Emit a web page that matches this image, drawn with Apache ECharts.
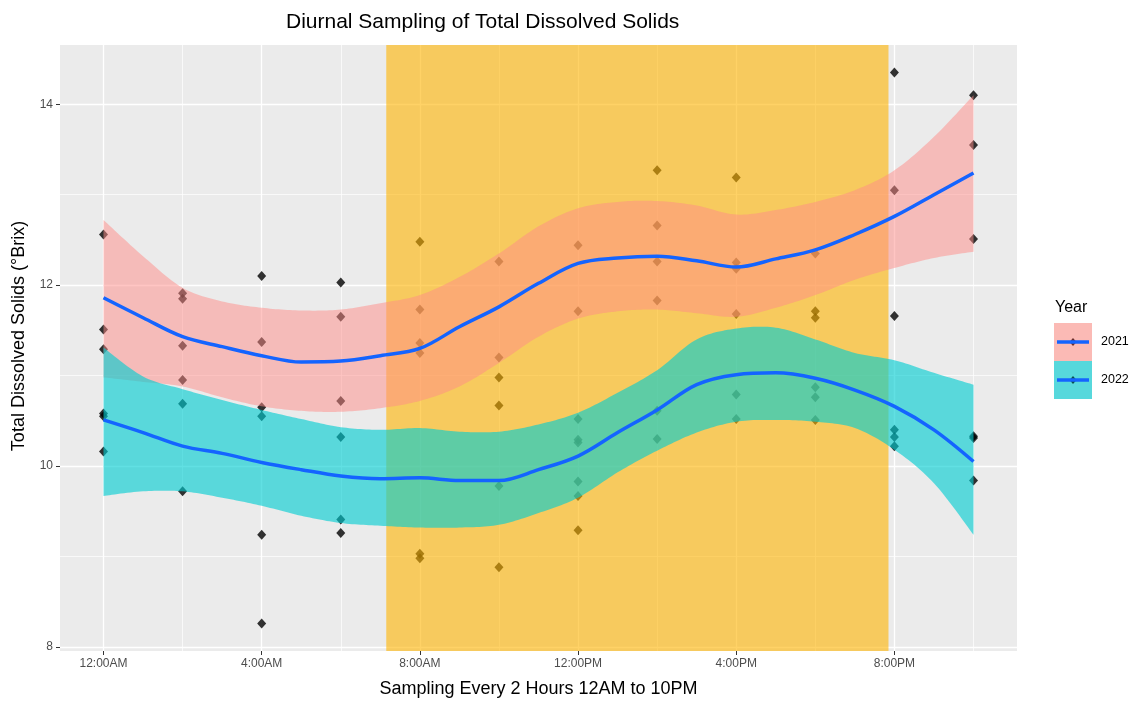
<!DOCTYPE html>
<html>
<head>
<meta charset="utf-8">
<title>Diurnal Sampling of Total Dissolved Solids</title>
<script src="https://cdn.jsdelivr.net/npm/echarts@6/dist/echarts.min.js"></script>
<style>
  html, body { margin: 0; padding: 0; background: #ffffff; }
  #chart { width: 1134px; height: 703px; }
</style>
</head>
<body>
<div id="chart"></div>
<script>
// ---- Data -------------------------------------------------------------
// Sampling hours (0 = midnight), every 2 hours
const sampleHours = [0, 2, 4, 6, 8, 10, 12, 14, 16, 18, 20, 22];

// Individual TDS readings (°Brix), [hour, value]
const tds2021 = [
  [0, 12.56], [0, 11.51], [0, 11.29],
  [2, 11.91], [2, 11.85], [2, 11.33],
  [4, 12.10], [4, 11.37], [4, 10.65],
  [6, 12.03], [6, 11.65], [6, 10.72],
  [8, 12.48], [8, 11.73], [8, 11.36],
  [10, 12.26], [10, 11.20], [10, 10.98],
  [12, 12.44], [12, 11.71], [12, 10.52], [12, 9.29],
  [14, 13.27], [14, 12.66], [14, 12.26], [14, 11.83],
  [16, 13.19], [16, 12.25], [16, 12.18], [16, 11.68],
  [18, 12.35], [18, 11.71], [18, 11.64],
  [20, 14.35], [20, 13.05], [20, 11.66],
  [22, 14.10], [22, 13.55], [22, 12.51]
];
const tds2022 = [
  [0, 10.58], [0, 10.55], [0, 10.16],
  [2, 10.95], [2, 10.69], [2, 9.72],
  [4, 10.55], [4, 9.24], [4, 8.26],
  [6, 10.32], [6, 9.41], [6, 9.26],
  [8, 11.25], [8, 9.03], [8, 8.98],
  [10, 10.67], [10, 9.78], [10, 8.88],
  [12, 10.29], [12, 10.26], [12, 9.83], [12, 9.67],
  [14, 10.61], [14, 10.30],
  [16, 10.79], [16, 10.52],
  [18, 10.87], [18, 10.76], [18, 10.51],
  [20, 10.40], [20, 10.32], [20, 10.22],
  [22, 10.33], [22, 10.31], [22, 9.84]
];

// Smoothed fit and confidence band, hourly from 0 to 22
const fitHours = [0, 1, 2, 3, 4, 5, 6, 7, 8, 9, 10, 11, 12, 13, 14, 15, 16, 17, 18, 19, 20, 21, 22];
const fit2021 = [11.86, 11.64, 11.43, 11.32, 11.22, 11.15, 11.16, 11.22, 11.30, 11.54, 11.76, 12.02, 12.24, 12.30, 12.32, 12.27, 12.20, 12.29, 12.39, 12.56, 12.76, 13.00, 13.24];
const upper2021 = [12.72, 12.32, 11.97, 11.82, 11.75, 11.72, 11.73, 11.80, 11.89, 12.09, 12.35, 12.65, 12.85, 12.92, 12.93, 12.88, 12.78, 12.83, 12.92, 13.05, 13.27, 13.64, 14.10];
const lower2021 = [10.98, 10.93, 10.88, 10.76, 10.66, 10.61, 10.60, 10.64, 10.72, 10.88, 11.14, 11.43, 11.63, 11.71, 11.73, 11.69, 11.65, 11.75, 11.89, 12.06, 12.19, 12.30, 12.37];
const fit2022 = [10.51, 10.37, 10.22, 10.14, 10.04, 9.96, 9.89, 9.86, 9.87, 9.84, 9.84, 9.96, 10.11, 10.37, 10.62, 10.90, 11.01, 11.03, 10.97, 10.84, 10.66, 10.40, 10.05];
const upper2022 = [11.31, 10.99, 10.85, 10.73, 10.62, 10.52, 10.43, 10.40, 10.42, 10.38, 10.38, 10.46, 10.59, 10.81, 11.06, 11.40, 11.52, 11.53, 11.40, 11.25, 11.17, 11.03, 10.90];
const lower2022 = [9.67, 9.72, 9.72, 9.65, 9.56, 9.45, 9.37, 9.34, 9.32, 9.32, 9.35, 9.48, 9.65, 9.93, 10.17, 10.37, 10.49, 10.51, 10.49, 10.42, 10.18, 9.81, 9.24];

// Daylight window (hours)
const daylight = [7.15, 19.85];

// Axis ticks
const xMajorTicks = [0, 4, 8, 12, 16, 20];
const xTickLabels = ['12:00AM', '4:00AM', '8:00AM', '12:00PM', '4:00PM', '8:00PM'];
const xMinorTicks = [2, 6, 10, 14, 18, 22];
const yMajorTicks = [8, 10, 12, 14];
const yMinorTicks = [9, 11, 13];

const years = ['2021', '2022'];

// ---- Chart ------------------------------------------------------------
const FONT = "'Liberation Sans', Arial, sans-serif";
const xRange = [-1.1, 23.1];
const yRange = [7.955, 14.655];
const FIT_BLUE = '#1464FF';

const pair = (xs, ys) => xs.map((x, i) => [x, ys[i]]);
const bandRows = (lo, up) => fitHours.map((h, i) => [h, lo[i], up[i]]);

// Smooth pixel path through points (Catmull-Rom segments rendered as cubic Béziers)
function smoothPath(pts) {
  const out = [pts[0]];
  const steps = 14;
  for (let i = 0; i < pts.length - 1; i++) {
    const p0 = pts[Math.max(i - 1, 0)], p1 = pts[i], p2 = pts[i + 1], p3 = pts[Math.min(i + 2, pts.length - 1)];
    const c1 = [p1[0] + (p2[0] - p0[0]) / 6, p1[1] + (p2[1] - p0[1]) / 6];
    const c2 = [p2[0] - (p3[0] - p1[0]) / 6, p2[1] - (p3[1] - p1[1]) / 6];
    for (let s = 1; s <= steps; s++) {
      const t = s / steps, u = 1 - t;
      out.push([
        u * u * u * p1[0] + 3 * u * u * t * c1[0] + 3 * u * t * t * c2[0] + t * t * t * p2[0],
        u * u * u * p1[1] + 3 * u * u * t * c1[1] + 3 * u * t * t * c2[1] + t * t * t * p2[1]
      ]);
    }
  }
  return out;
}

// Confidence ribbon drawn once as a single closed polygon
function bandRenderer(color, opacity) {
  return (params, api) => {
    if (params.dataIndexInside !== 0) return null;
    const n = params.dataInsideLength;
    const up = [], lo = [];
    for (let i = 0; i < n; i++) {
      up.push(api.coord([api.value(0, i), api.value(2, i)]));
      lo.push(api.coord([api.value(0, i), api.value(1, i)]));
    }
    const pts = smoothPath(up).concat(smoothPath(lo.reverse()));
    return {
      type: 'polygon',
      shape: { points: pts },
      style: { fill: color, opacity: opacity }
    };
  };
}

const chart = echarts.init(document.getElementById('chart'), null, { renderer: 'canvas' });

const axisBase = {
  type: 'value',
  min: xRange[0],
  max: xRange[1],
  axisLine: { show: false, onZero: false }
};

const option = {
  animation: false,
  backgroundColor: '#ffffff',
  textStyle: { fontFamily: FONT },
  title: {
    text: 'Diurnal Sampling of Total Dissolved Solids',
    left: 281,
    top: 7,
    textStyle: { fontFamily: FONT, fontSize: 21, fontWeight: 'normal', color: '#000000' }
  },
  grid: {
    left: 60, right: 117, top: 45, bottom: 52,
    show: true, backgroundColor: '#EBEBEB', borderWidth: 0
  },
  xAxis: [
    Object.assign({}, axisBase, {
      position: 'bottom',
      axisTick: { show: true, customValues: xMajorTicks, length: 4, lineStyle: { color: '#333333', width: 1 } },
      axisLabel: {
        customValues: xMajorTicks,
        formatter: v => xTickLabels[xMajorTicks.indexOf(Math.round(v))] || '',
        color: '#4D4D4D', fontSize: 12, fontFamily: FONT, margin: 7
      },
      splitLine: { show: true, lineStyle: { color: '#ffffff', width: 1.3 } },
      name: 'Sampling Every 2 Hours 12AM to 10PM',
      nameLocation: 'middle',
      nameGap: 29,
      nameTextStyle: { fontFamily: FONT, fontSize: 18, color: '#000000' }
    }),
    Object.assign({}, axisBase, {
      position: 'bottom',
      axisTick: { show: false, customValues: xMinorTicks },
      axisLabel: { show: false, customValues: xMinorTicks },
      splitLine: { show: true, lineStyle: { color: '#ffffff', width: 0.7 } }
    })
  ],
  yAxis: [
    {
      type: 'value', min: yRange[0], max: yRange[1],
      axisLine: { show: false, onZero: false },
      axisTick: { show: true, customValues: yMajorTicks, length: 4, lineStyle: { color: '#333333', width: 1 } },
      axisLabel: {
        customValues: yMajorTicks,
        formatter: v => String(Math.round(v)),
        color: '#4D4D4D', fontSize: 12, fontFamily: FONT, margin: 7
      },
      splitLine: { show: true, lineStyle: { color: '#ffffff', width: 1.3 } },
      name: 'Total Dissolved Solids (°Brix)',
      nameLocation: 'middle',
      nameRotate: 90,
      nameGap: 32,
      nameTextStyle: { fontFamily: FONT, fontSize: 18, color: '#000000', padding: [0, 0, 0, 24] }
    },
    {
      type: 'value', min: yRange[0], max: yRange[1],
      axisLine: { show: false, onZero: false },
      axisTick: { show: false, customValues: yMinorTicks },
      axisLabel: { show: false, customValues: yMinorTicks },
      splitLine: { show: true, lineStyle: { color: '#ffffff', width: 0.7 } }
    }
  ],
  series: [
    // observations
    {
      name: years[0], type: 'scatter', z: 1, data: tds2021,
      symbol: 'diamond', symbolSize: [9, 10],
      itemStyle: { color: '#000000' }, silent: true
    },
    {
      name: years[1], type: 'scatter', z: 1, data: tds2022,
      symbol: 'diamond', symbolSize: [9, 10],
      itemStyle: { color: '#000000' }, silent: true
    },
    // daylight shading
    {
      type: 'custom', z: 2, silent: true,
      data: [daylight],
      encode: { x: [0, 1] },
      renderItem: (params, api) => {
        const x0 = api.coord([api.value(0), yRange[0]])[0];
        const x1 = api.coord([api.value(1), yRange[0]])[0];
        const cs = params.coordSys;
        return {
          type: 'rect',
          shape: { x: x0, y: cs.y, width: x1 - x0, height: cs.height },
          style: { fill: '#FFB400', opacity: 0.6 }
        };
      }
    },
    // confidence ribbons
    {
      name: years[0] + ' band', type: 'custom', z: 3, silent: true,
      data: bandRows(lower2021, upper2021),
      encode: { x: 0, y: [1, 2] },
      renderItem: bandRenderer('#FF8C87', 0.5)
    },
    {
      name: years[1] + ' band', type: 'custom', z: 4, silent: true,
      data: bandRows(lower2022, upper2022),
      encode: { x: 0, y: [1, 2] },
      renderItem: bandRenderer('#00CDD2', 0.62)
    },
    // fitted curves
    {
      name: years[0] + ' fit', type: 'line', z: 5, smooth: 0.35, symbol: 'none', silent: true,
      data: pair(fitHours, fit2021),
      lineStyle: { color: FIT_BLUE, width: 3.5 }
    },
    {
      name: years[1] + ' fit', type: 'line', z: 5, smooth: 0.35, symbol: 'none', silent: true,
      data: pair(fitHours, fit2022),
      lineStyle: { color: FIT_BLUE, width: 3.5 }
    }
  ],
  graphic: [
    {
      type: 'group', left: 1054, top: 300,
      children: [
        { type: 'text', x: 1, y: 0, style: { text: 'Year', font: '16px ' + FONT, fill: '#000000' } },
        // 2021 key
        { type: 'rect', shape: { x: 0, y: 23, width: 38, height: 38 }, style: { fill: '#FBBAB5' } },
        { type: 'polygon', shape: { points: [[19, 38], [22.5, 42], [19, 46], [15.5, 42]] }, style: { fill: '#6A2E2C' } },
        { type: 'line', shape: { x1: 3, y1: 42, x2: 35, y2: 42 }, style: { stroke: FIT_BLUE, lineWidth: 3.5 } },
        { type: 'text', x: 47, y: 35, style: { text: years[0], font: '12.5px ' + FONT, fill: '#000000' } },
        // 2022 key
        { type: 'rect', shape: { x: 0, y: 61, width: 38, height: 38 }, style: { fill: '#57D8DC' } },
        { type: 'polygon', shape: { points: [[19, 76], [22.5, 80], [19, 84], [15.5, 80]] }, style: { fill: '#0B4E50' } },
        { type: 'line', shape: { x1: 3, y1: 80, x2: 35, y2: 80 }, style: { stroke: FIT_BLUE, lineWidth: 3.5 } },
        { type: 'text', x: 47, y: 73, style: { text: years[1], font: '12.5px ' + FONT, fill: '#000000' } }
      ]
    }
  ]
};

chart.setOption(option);
</script>
</body>
</html>
